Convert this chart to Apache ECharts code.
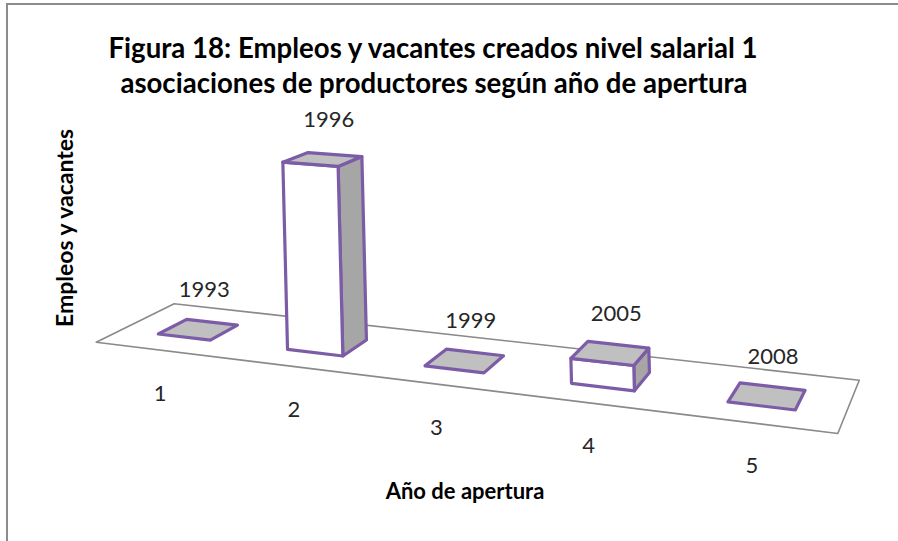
<!DOCTYPE html>
<html>
<head>
<meta charset="utf-8">
<script src="https://cdn.jsdelivr.net/npm/echarts@6/dist/echarts.min.js"></script>
<style>
  html, body { margin: 0; padding: 0; background: #ffffff; }
  #chart { width: 898px; height: 541px; }
</style>
</head>
<body>
<div id="chart"></div>
<script>
// ---- data ----
const categories = ['1', '2', '3', '4', '5'];
const values = [0, 8, 0, 1, 0];
const yearLabels = ['1993', '1996', '1999', '2005', '2008'];
const titleLines = [
  'Figura 18: Empleos y vacantes creados nivel salarial 1',
  'asociaciones de productores según año de apertura'
];
const xAxisTitle = 'Año de apertura';
const yAxisTitle = 'Empleos y vacantes';

// ---- layout / projection (pseudo 3D view of the floor plane) ----
const X_MIN = -0.5, X_MAX = 4.5, Y_MIN = 0, Y_MAX = 8;
const BAR_HALF = 0.205;
const FLOOR_FRONT = -0.82, FLOOR_BACK = 1.84;
const PR = {
  A: 120.62, B: 34.42, C: 158.3,
  D: 4.95, E: -4.41, F: 334,
  G: -0.02995, H: 0.03223,
  K: 181.6, lean: -0.025, uShift: 0.205
};
const FONT = 'Lato, "Open Sans", sans-serif';
const PURPLE = '#7C5CA6';

function project(api, cs, c, z, v) {
  const p = api.coord([c, z]);
  const fx = (p[0] - cs.x) / cs.width;
  const fz = (cs.y + cs.height - p[1]) / cs.height;
  const u = X_MIN + fx * (X_MAX - X_MIN) + PR.uShift;
  const w = PR.G * u + PR.H * v + 1;
  const x = (PR.A * u + PR.B * v + PR.C) / w;
  const y = (PR.D * u + PR.E * v + PR.F) / w;
  const h = fz * PR.K / w;
  return [x + PR.lean * h, y - h];
}

function poly(points, fill, stroke, lw) {
  return {
    type: 'polygon',
    shape: { points: points },
    style: { fill: fill, stroke: stroke, lineWidth: lw, lineJoin: 'round' }
  };
}

function renderFloor(params, api) {
  const cs = params.coordSys;
  const pts = [
    project(api, cs, X_MIN, 0, FLOOR_FRONT),
    project(api, cs, X_MAX, 0, FLOOR_FRONT),
    project(api, cs, X_MAX, 0, FLOOR_BACK),
    project(api, cs, X_MIN, 0, FLOOR_BACK)
  ];
  return poly(pts, '#ffffff', '#8a8a8a', 1.6);
}

function renderBar(params, api) {
  const cs = params.coordSys;
  const i = api.value(0);
  const val = api.value(1);
  const L = i - BAR_HALF, R = i + BAR_HALF;
  const children = [];
  const FL0 = project(api, cs, L, 0, 0), FR0 = project(api, cs, R, 0, 0);
  const BR0 = project(api, cs, R, 0, 1);
  const FL1 = project(api, cs, L, val, 0), FR1 = project(api, cs, R, val, 0);
  const BR1 = project(api, cs, R, val, 1), BL1 = project(api, cs, L, val, 1);
  if (val > 0) {
    children.push(poly([FR0, BR0, BR1, FR1], '#A6A6A6', PURPLE, 3.2));
    children.push(poly([FL0, FR0, FR1, FL1], '#ffffff', PURPLE, 3.2));
  }
  children.push(poly([FL1, FR1, BR1, BL1], '#C0C0C0', PURPLE, 3.2));

  const top = project(api, cs, i, val, 0.5);
  children.push({
    type: 'text',
    style: {
      text: yearLabels[params.dataIndex],
      x: top[0] + 6, y: top[1] - 41,
      align: 'center', verticalAlign: 'middle',
      fontSize: 22, fontFamily: FONT, fill: '#262626'
    }
  });
  const base = project(api, cs, i, 0, FLOOR_FRONT);
  children.push({
    type: 'text',
    style: {
      text: categories[params.dataIndex],
      x: base[0], y: base[1] + 42,
      align: 'center', verticalAlign: 'middle',
      fontSize: 22, fontFamily: FONT, fill: '#262626'
    }
  });
  return { type: 'group', children: children };
}

const chart = echarts.init(document.getElementById('chart'), null, { renderer: 'svg' });
chart.setOption({
  animation: false,
  backgroundColor: '#ffffff',
  grid: { left: 100, top: 100, width: 500, height: 300, show: false },
  xAxis: { type: 'value', min: X_MIN, max: X_MAX, show: false },
  yAxis: { type: 'value', min: Y_MIN, max: Y_MAX, show: false },
  graphic: [
    { type: 'line', shape: { x1: 6, y1: 4, x2: 898, y2: 4 }, style: { stroke: '#8c8c8c', lineWidth: 2 } },
    { type: 'line', shape: { x1: 7, y1: 4, x2: 7, y2: 541 }, style: { stroke: '#8c8c8c', lineWidth: 2 } },
    { type: 'text', x: 433, y: 47, style: { text: titleLines[0], align: 'center', verticalAlign: 'middle', fontSize: 27.6, fontWeight: 'bold', fontFamily: FONT, fill: '#000' } },
    { type: 'text', x: 434, y: 82, style: { text: titleLines[1], align: 'center', verticalAlign: 'middle', fontSize: 27.6, fontWeight: 'bold', fontFamily: FONT, fill: '#000' } },
    { type: 'text', x: 465, y: 490, style: { text: xAxisTitle, align: 'center', verticalAlign: 'middle', fontSize: 22, fontWeight: 'bold', fontFamily: FONT, fill: '#000' } },
    { type: 'text', x: 64, y: 228, rotation: Math.PI / 2, style: { text: yAxisTitle, align: 'center', verticalAlign: 'middle', fontSize: 23, fontWeight: 'bold', fontFamily: FONT, fill: '#000' } }
  ],
  series: [
    {
      type: 'custom', name: 'floor', silent: true, clip: false, z: 1,
      data: [[0, 0]],
      encode: { x: 0, y: 1 },
      renderItem: renderFloor
    },
    {
      type: 'custom', name: 'Empleos y vacantes', silent: true, clip: false, z: 2,
      data: values.map(function (v, i) { return [i, v]; }),
      encode: { x: 0, y: 1 },
      renderItem: renderBar
    }
  ]
});
</script>
</body>
</html>
